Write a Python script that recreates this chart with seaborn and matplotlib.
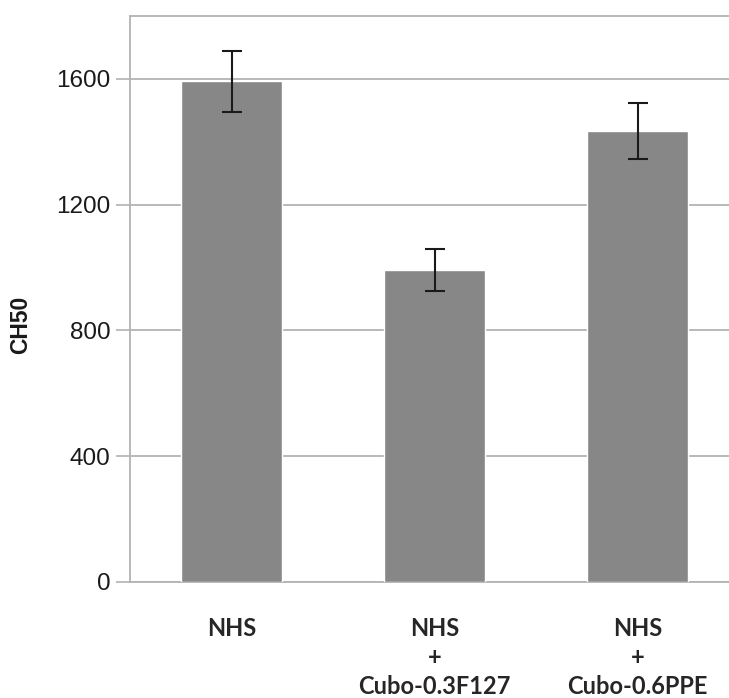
import matplotlib
matplotlib.use("Agg")
import matplotlib.pyplot as plt
import seaborn as sns
import pandas as pd
import numpy as np

categories = ["NHS", "NHS\n+\nCubo-0.3F127", "NHS\n+\nCubo-0.6PPE"]
values = [1592, 992, 1434]
errors = [96, 68, 89]
yticks = [0, 400, 800, 1200, 1600]

df = pd.DataFrame({"group": categories, "CH50": values})

sns.set_style("white")
plt.rcParams["font.family"] = ["Liberation Sans", "DejaVu Sans"]

fig = plt.figure(figsize=(7.29, 6.98), dpi=100)
ax = fig.add_axes([130 / 729, 1 - 582 / 698, (739 - 130) / 729, (582 - 16) / 698])

sns.barplot(data=df, x="group", y="CH50", order=categories, color="#878787",
            saturation=1, width=0.5, errorbar=None, ax=ax, zorder=3)
ax.errorbar(x=np.arange(len(categories)), y=values, yerr=errors, fmt="none",
            ecolor="#1a1a1a", elinewidth=1.5, capsize=7.5, capthick=1.5, zorder=4)

ax.set_ylim(0, 1800)
ax.set_xlim(-0.5, len(categories) - 0.5)
ax.set_yticks(yticks)
ax.set_yticklabels([str(v) for v in yticks], fontsize=17.5, color="#1a1a1a")
ax.yaxis.grid(True, color="#b3b3b3", linewidth=1.3, zorder=0)
ax.set_axisbelow(True)

ax.set_xticks(np.arange(len(categories)))
ax.set_xticklabels(categories, fontsize=17, fontweight="bold", family=["Lato", "DejaVu Sans"],
                   linespacing=1.32, va="top")
ax.set_xticks(np.arange(len(categories) + 1) - 0.5, minor=True)
ax.tick_params(axis="x", which="major", length=0, pad=25)
ax.tick_params(axis="x", which="minor", length=8, color="#b3b3b3", width=1.2, direction="out")
ax.tick_params(axis="y", which="major", length=10, color="#b3b3b3", width=1.2, direction="out", pad=4,
               left=True)

ax.set_xlabel("")
ax.set_ylabel("CH50", fontsize=16.5, fontweight="bold", color="#1a1a1a")
ax.yaxis.set_label_coords(-0.16, 0.455)

for side in ["left", "bottom", "top"]:
    ax.spines[side].set_visible(True)
    ax.spines[side].set_color("#b3b3b3")
    ax.spines[side].set_linewidth(1.3)
ax.spines["right"].set_visible(False)

fig.savefig("out.png", dpi=100)
